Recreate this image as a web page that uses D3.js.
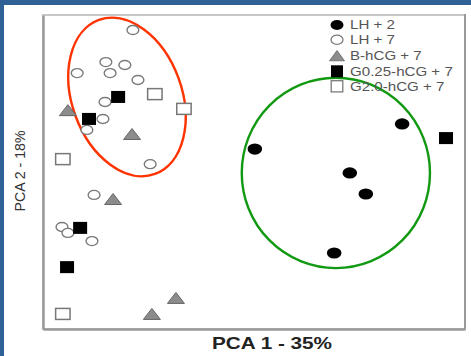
<!DOCTYPE html>
<html>
<head>
<meta charset="utf-8">
<script src="https://cdn.jsdelivr.net/npm/d3@7"></script>
<style>
  html, body { margin: 0; padding: 0; background: #ffffff; }
  svg { display: block; font-family: "Liberation Sans", Arial, Helvetica, sans-serif; }
</style>
</head>
<body>
<svg id="chart" width="471" height="356"></svg>
<script>
// PCA scores (arbitrary units on each component, 0-100 across the plotted range)
const lh2X = [85.1, 50.2, 72.7, 76.5, 69.0];
const lh2Y = [65.3, 57.3, 49.7, 43.0, 24.2];

const lh7X = [21.3, 14.9, 19.4, 15.9, 8.1, 22.5, 14.7, 14.2, 10.4, 25.4, 12.1, 4.5, 5.9, 11.6];
const lh7Y = [95.2, 85.0, 84.1, 81.5, 81.5, 79.3, 72.3, 66.9, 63.4, 52.5, 42.7, 32.5, 30.6, 28.0];

const bhcgX = [5.9, 21.1, 16.6, 31.5, 25.8];
const bhcgY = [69.7, 62.1, 41.4, 9.9, 4.8];

const g025X = [17.8, 10.9, 95.5, 8.8, 5.7];
const g025Y = [73.9, 66.9, 60.8, 32.2, 19.7];

const g20X = [26.5, 33.4, 4.7, 4.7];
const g20Y = [74.8, 70.1, 54.1, 4.8];

// cluster outlines: centre (score units) and radii (score units)
const clusterA = { cx: 19.9, cy: 73.9, rx: 13.0, ry: 26.1, angle: -20, color: "#ff3300" };
const clusterB = { cx: 69.4, cy: 49.7, rx: 22.3, ry: 30.3, angle: 0, color: "#119911" };

const seriesNames = ["LH + 2", "LH + 7", "B-hCG + 7", "G0.25-hCG + 7", "G2.0-hCG + 7"];
const axisTitleX = "PCA 1 - 35%";
const axisTitleY = "PCA 2 - 18%";

const svg = d3.select("#chart");

// page frame bands
svg.append("rect").attr("x", 0).attr("y", 0).attr("width", 471).attr("height", 5).attr("fill", "#2f6096");
svg.append("rect").attr("x", 0).attr("y", 0).attr("width", 4).attr("height", 356).attr("fill", "#2f6096");

const x = d3.scaleLinear().domain([0, 100]).range([43, 465]);
const y = d3.scaleLinear().domain([0, 100]).range([329, 15]);

// plot border
const g = svg.append("g");
g.append("rect")
  .attr("x", x(0)).attr("y", y(100))
  .attr("width", x(100) - x(0)).attr("height", y(0) - y(100))
  .attr("fill", "none").attr("stroke", "#c8c8c8").attr("stroke-width", 2);
g.append("line")
  .attr("x1", x(100)).attr("x2", x(100)).attr("y1", y(100) - 1).attr("y2", y(0))
  .attr("stroke", "#8a8a8a").attr("stroke-width", 1.5);

const axL = svg.append("g").attr("transform", `translate(${x(0)},0)`)
  .call(d3.axisLeft(y).tickValues([]).tickSizeOuter(0));
axL.select(".domain").attr("stroke", "#9a9a9a").attr("stroke-width", 2.5);
const axB = svg.append("g").attr("transform", `translate(0,${y(0)})`)
  .call(d3.axisBottom(x).tickValues([]).tickSizeOuter(0));
axB.select(".domain").attr("stroke", "#9a9a9a").attr("stroke-width", 2.5);

// cluster ellipses
function drawCluster(c) {
  svg.append("ellipse")
    .attr("transform", `translate(${x(c.cx)},${y(c.cy)}) rotate(${c.angle})`)
    .attr("rx", x(c.rx) - x(0))
    .attr("ry", y(0) - y(c.ry))
    .attr("fill", "none")
    .attr("stroke", c.color)
    .attr("stroke-width", 2.4);
}
drawCluster(clusterA);
drawCluster(clusterB);

// marker painters
const markers = {
  filledCircle: (sel) => sel.append("ellipse").attr("rx", 7.3).attr("ry", 5.6).attr("fill", "#000"),
  openCircle: (sel) => sel.append("ellipse").attr("rx", 5.9).attr("ry", 4.5)
    .attr("fill", "#fff").attr("stroke", "#7a7a7a").attr("stroke-width", 1.4),
  triangle: (sel) => sel.append("path").attr("d", "M0,-5.5 L8.5,5.5 L-8.5,5.5 Z")
    .attr("fill", "#8c8c8c").attr("stroke", "#666").attr("stroke-width", 1),
  filledSquare: (sel) => sel.append("rect").attr("x", -7).attr("y", -6).attr("width", 14).attr("height", 12)
    .attr("fill", "#000"),
  openSquare: (sel) => sel.append("rect").attr("x", -7.2).attr("y", -5.5).attr("width", 14.4).attr("height", 11)
    .attr("fill", "#fff").attr("stroke", "#777").attr("stroke-width", 1.5)
};

function plotSeries(xs, ys, kind) {
  const pts = xs.map((v, i) => [v, ys[i]]);
  svg.append("g").selectAll("g").data(pts).join("g")
    .attr("transform", d => `translate(${x(d[0])},${y(d[1])})`)
    .each(function () { markers[kind](d3.select(this)); });
}

plotSeries(lh7X, lh7Y, "openCircle");
plotSeries(g20X, g20Y, "openSquare");
plotSeries(bhcgX, bhcgY, "triangle");
plotSeries(g025X, g025Y, "filledSquare");
plotSeries(lh2X, lh2Y, "filledCircle");

// legend
const legendKinds = ["filledCircle", "openCircle", "triangle", "filledSquare", "openSquare"];
const legendRows = [25, 39.8, 55.8, 71.3, 86.3];
const legend = svg.append("g");
seriesNames.forEach((name, i) => {
  const row = legend.append("g").attr("transform", `translate(337,${legendRows[i]})`);
  if (legendKinds[i] === "filledCircle") {
    row.append("ellipse").attr("rx", 6.5).attr("ry", 5).attr("fill", "#000");
  } else if (legendKinds[i] === "openCircle") {
    row.append("ellipse").attr("rx", 6).attr("ry", 4.6).attr("fill", "#fff").attr("stroke", "#7a7a7a").attr("stroke-width", 1.3);
  } else if (legendKinds[i] === "triangle") {
    row.append("path").attr("d", "M0,-5.3 L7.5,5 L-7.5,5 Z").attr("fill", "#8c8c8c").attr("stroke", "#666").attr("stroke-width", 0.8);
  } else if (legendKinds[i] === "filledSquare") {
    row.append("rect").attr("x", -6).attr("y", -6).attr("width", 12).attr("height", 12).attr("fill", "#000");
  } else {
    row.append("rect").attr("x", -5.8).attr("y", -5.6).attr("width", 11.6).attr("height", 11.2)
      .attr("fill", "none").attr("stroke", "#7a7a7a").attr("stroke-width", 1.3);
  }
  row.append("text")
    .attr("transform", "translate(13,0) scale(1.26,1)")
    .attr("dy", "0.36em")
    .attr("font-size", 12)
    .attr("fill", "#555")
    .text(name);
});

// axis titles
svg.append("text")
  .attr("x", 272).attr("y", 349)
  .attr("text-anchor", "middle")
  .attr("font-size", 17).attr("font-weight", "bold")
  .attr("fill", "#222")
  .attr("textLength", 120).attr("lengthAdjust", "spacingAndGlyphs")
  .text(axisTitleX);

svg.append("text")
  .attr("transform", "translate(25,171) rotate(-90)")
  .attr("text-anchor", "middle")
  .attr("font-size", 14)
  .attr("fill", "#333")
  .attr("textLength", 81).attr("lengthAdjust", "spacingAndGlyphs")
  .text(axisTitleY);
</script>
</body>
</html>
